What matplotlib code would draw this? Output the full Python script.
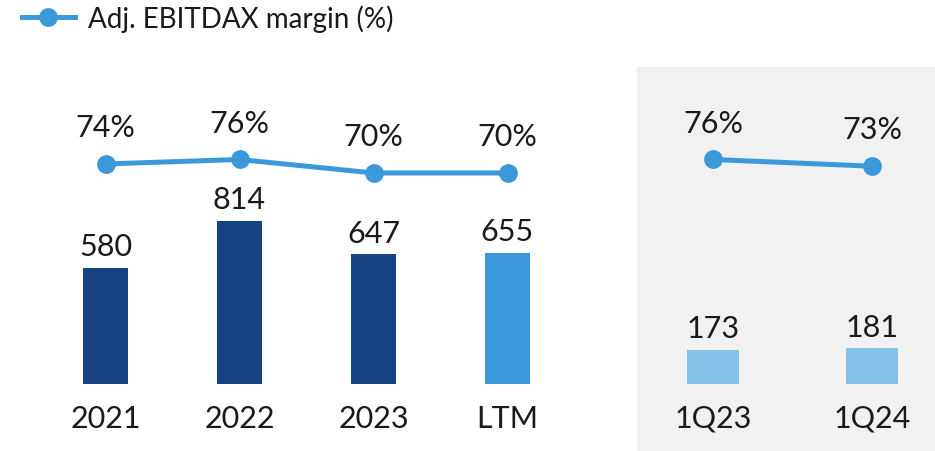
import matplotlib
matplotlib.use('Agg')
import matplotlib.pyplot as plt
from matplotlib.lines import Line2D

plt.rcParams['font.family'] = ['Lato', 'DejaVu Sans']

years = ['2021', '2022', '2023', 'LTM']
ebitdax = [580, 814, 647, 655]
margin = [74, 76, 70, 70]
year_colors = ['#174384', '#174384', '#174384', '#3a98db']

quarters = ['1Q23', '1Q24']
q_ebitdax = [173, 181]
q_margin = [76, 73]

line_color = '#3a98db'
text_color = '#1a1a1a'
W, H = 935, 452

fig = plt.figure(figsize=(W / 100, H / 100), dpi=100)
ax = fig.add_axes([0, 0, 637 / W, 384 / H])
axq = fig.add_axes([637 / W, 0, 298 / W, 384 / H])
axq.set_facecolor('#f1f1f1')
ax.set_facecolor('none')

def draw(a, labels, vals, margins, colors, width, xlim):
    x = list(range(len(labels)))
    a.bar(x, vals, width=width, color=colors, zorder=2)
    a.set_ylim(-331, 1580)
    a.set_xlim(*xlim)
    for i, v in enumerate(vals):
        a.annotate(str(v), (i, v), xytext=(0, 9), textcoords='offset points',
                   ha='center', va='baseline', fontsize=22, color=text_color)
        a.annotate(labels[i], (i, 0), xytext=(0, -30.5), textcoords='offset points',
                   ha='center', va='baseline', fontsize=22, color=text_color)
    t = a.twinx()
    t.plot(x, margins, color=line_color, lw=3.6, marker='o', markersize=12.5, zorder=3)
    t.set_ylim(-53.56, 117.1)
    for i, m in enumerate(margins):
        t.annotate('%d%%' % m, (i, m), xytext=(0, 20), textcoords='offset points',
                   ha='center', va='baseline', fontsize=22, color=text_color)
    for aa in (a, t):
        aa.set_xticks([])
        aa.set_yticks([])
        for s in aa.spines.values():
            s.set_visible(False)

draw(ax, years, ebitdax, margin, year_colors, 45 / 134, (-105.5 / 134, (637 - 105.5) / 134))
draw(axq, quarters, q_ebitdax, q_margin, ['#85c0e8'] * 2, 52 / 159, (-76 / 159, (298 - 76) / 159))

handle = Line2D([], [], color=line_color, lw=3.6, marker='o', markersize=12.5)
fig.legend([handle], ['Adj. EBITDAX margin (%)'], loc='center left',
           bbox_to_anchor=(22 / W, 1 - 19 / H), frameon=False, fontsize=20,
           borderpad=0, borderaxespad=0,
           handlelength=1.9, handletextpad=0.47, labelcolor=text_color)

fig.savefig('out.png', dpi=100)
